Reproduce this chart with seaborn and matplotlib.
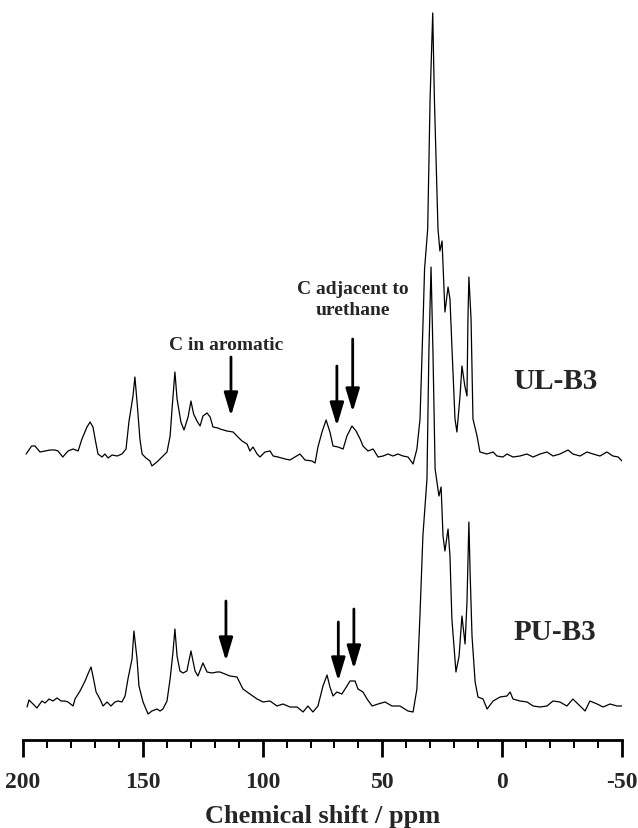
import numpy as np
import pandas as pd
import matplotlib
matplotlib.use("Agg")
import matplotlib.pyplot as plt
from matplotlib.ticker import MultipleLocator
import seaborn as sns

# ---------------- data ----------------
ul_ppm = [198.7, 196.4, 195.0, 192.9, 190.8, 188.7, 186.6, 185.4, 183.4, 181.2,
          179.1, 177.0, 175.4, 173.3, 172.0, 170.8, 169.9, 168.7, 167.0, 165.8,
          164.5, 162.8, 160.7, 158.7, 157.0, 155.8, 154.1, 153.3, 152.4, 151.2,
          150.3, 148.7, 147.0, 146.2, 144.1, 142.0, 139.9, 138.6, 137.8, 136.6,
          135.7, 134.1, 132.8, 131.1, 129.9, 128.8, 127.4, 126.1, 124.9, 123.2,
          121.9, 120.7, 118.6, 117.8, 114.9, 112.3, 110.7, 108.6, 106.5, 105.3,
          104.0, 102.3, 101.1, 99.0, 96.9, 95.6, 93.6, 90.6, 88.6, 86.5,
          84.4, 82.3, 79.4, 78.1, 76.9, 75.2, 73.5, 71.9, 70.6, 68.5,
          66.4, 64.8, 62.7, 61.0, 59.3, 58.1, 56.0, 53.9, 51.8, 49.7,
          47.7, 45.6, 43.5, 41.4, 39.3, 37.2, 35.6, 34.3, 33.0, 32.4,
          31.1, 30.1, 29.0, 28.3, 26.8, 26.0, 25.1, 23.9, 22.6, 21.8,
          21.0, 19.7, 18.9, 17.6, 16.8, 15.6, 14.7, 14.3, 13.9, 13.0,
          12.2, 10.5, 9.3, 6.4, 3.8, 2.2, -0.3, -2.0, -4.5, -7.4,
          -10.3, -12.9, -15.8, -18.7, -21.2, -24.1, -27.5, -29.5, -32.5, -35.4,
          -37.9, -40.8, -43.7, -46.2, -48.4, -50.4]
ul_int = [0, 8, 8, 2, 3, 4, 4, 3, -3, 3,
          5, 3, 15, 27, 32, 27, 15, 0, -3, 0,
          -4, -1, -2, 0, 5, 32, 58, 77, 52, 15,
          0, -4, -7, -12, -8, -3, 2, 18, 45, 82,
          55, 32, 24, 37, 53, 40, 33, 28, 38, 41,
          37, 27, 26, 25, 23, 22, 18, 13, 10, 3,
          7, 0, -3, 2, 3, -2, -3, -5, -6, -3,
          0, -6, -7, -9, 7, 22, 34, 22, 8, 7,
          5, 18, 28, 23, 15, 8, 3, 5, -3, -2,
          0, -2, 0, -2, -3, -10, 5, 35, 135, 185,
          225, 355, 441, 355, 225, 203, 213, 142, 167, 155,
          108, 35, 22, 58, 88, 68, 58, 135, 177, 135,
          35, 18, 2, 0, 2, -2, -3, 0, -3, -2,
          0, -3, 0, 2, -2, 0, 4, 0, -2, 2,
          0, -2, 2, -2, -3, -8]

pu_ppm = [198.3, 197.5, 195.8, 194.2, 192.1, 190.8, 189.1, 187.5, 185.8, 184.1,
          182.5, 181.2, 179.1, 178.3, 176.2, 174.1, 172.9, 171.6, 170.8, 169.5,
          167.9, 166.6, 164.9, 163.3, 161.6, 160.3, 158.7, 157.4, 156.2, 154.5,
          153.7, 152.4, 151.6, 149.9, 148.7, 147.8, 146.2, 144.1, 142.8, 141.6,
          139.9, 138.6, 137.4, 136.6, 135.7, 134.5, 133.2, 131.6, 129.9, 128.2,
          127.0, 124.9, 123.2, 121.1, 119.0, 117.8, 113.6, 110.7, 108.2, 105.3,
          102.3, 99.8, 96.9, 94.0, 91.5, 88.6, 85.6, 83.1, 81.1, 79.0,
          76.9, 74.8, 73.1, 71.9, 70.6, 69.0, 66.9, 64.8, 63.5, 61.4,
          60.2, 58.1, 56.4, 54.3, 51.8, 48.9, 46.0, 42.7, 39.3, 37.2,
          35.6, 34.3, 33.1, 31.4, 30.6, 29.7, 28.9, 28.0, 26.4, 25.5,
          24.7, 23.9, 22.6, 21.8, 21.0, 19.3, 18.0, 16.8, 15.5, 14.7,
          13.9, 13.4, 12.6, 11.3, 10.1, 8.0, 6.3, 3.8, 0.9, -2.0,
          -3.3, -4.5, -7.4, -10.4, -12.9, -15.8, -18.7, -21.2, -24.1, -27.0,
          -29.5, -32.5, -34.6, -36.6, -39.6, -42.1, -45.0, -47.9, -50.4]
pu_int = [2, 9, 5, 1, 8, 6, 10, 8, 11, 8,
          8, 7, 3, 10, 18, 28, 35, 42, 33, 17,
          10, 3, 7, 3, 7, 8, 7, 13, 30, 50,
          78, 50, 23, 7, 0, -5, -2, 0, -2, 0,
          8, 30, 57, 80, 53, 38, 36, 38, 58, 38,
          33, 46, 37, 36, 37, 37, 33, 32, 20, 15,
          10, 7, 8, 3, 5, 2, 2, -3, 3, -3,
          3, 23, 34, 22, 13, 17, 15, 23, 28, 28,
          20, 17, 10, 3, 5, 7, 3, 3, -2, -3,
          20, 95, 173, 230, 357, 442, 357, 240, 213, 222,
          173, 158, 180, 153, 90, 37, 53, 93, 65, 107,
          187, 137, 73, 27, 12, 10, 0, 8, 12, 13,
          17, 10, 8, 7, 3, 2, 3, 8, 7, 3,
          10, 3, -2, 8, 5, 2, 5, 3, 3]

x_ticks = [200, 150, 100, 50, 0, -50]
x_tick_labels = ["200", "150", "100", "50", "0", "-50"]
series_names = ["UL-B3", "PU-B3"]

# ---------------- layout constants ----------------
UL_OFFSET = 286
PU_OFFSET = 31
SERIF = "Liberation Serif"

sns.set_style("white")
plt.rcParams["font.family"] = [SERIF, "DejaVu Serif"]
plt.rcParams["font.weight"] = "bold"

df = pd.concat([
    pd.DataFrame({"ppm": ul_ppm, "y": np.array(ul_int) + UL_OFFSET, "sample": series_names[0]}),
    pd.DataFrame({"ppm": pu_ppm, "y": np.array(pu_int) + PU_OFFSET, "sample": series_names[1]}),
])

W, H = 638, 829
fig = plt.figure(figsize=(W / 100, H / 100), dpi=100)
ax = fig.add_axes([23 / W, (H - 741) / H, (622 - 23) / W, 741 / H])

sns.lineplot(data=df, x="ppm", y="y", units="sample", estimator=None,
             color="black", linewidth=0.9, ax=ax, legend=False, sort=False)

ax.set_xlim(200, -50)
ax.set_ylim(0, 741)
ax.set_yticks([])
ax.set_ylabel("")
for s in ["top", "left", "right"]:
    ax.spines[s].set_visible(False)
ax.spines["bottom"].set_linewidth(2.0)
ax.spines["bottom"].set_color("black")
ax.set_xticks(x_ticks)
ax.set_xticklabels(x_tick_labels, fontsize=17, fontweight="bold", family=SERIF)
ax.xaxis.set_minor_locator(MultipleLocator(10))
ax.tick_params(axis="x", which="major", direction="out", length=12, width=2.0,
               color="black", pad=10, bottom=True)
ax.tick_params(axis="x", which="minor", direction="out", length=6, width=1.4,
               color="black", bottom=True)
ax.set_xlabel("Chemical shift / ppm", fontsize=19, fontweight="bold", family=SERIF,
              labelpad=9)

# sample labels
ax.text(-22.4, 359, series_names[0], ha="center", va="center", fontsize=21,
        fontweight="bold", family=SERIF)
ax.text(-22.0, 109, series_names[1], ha="center", va="center", fontsize=21,
        fontweight="bold", family=SERIF)

# annotations
ax.text(115.3, 396, "C in aromatic", ha="center", va="center", fontsize=14,
        fontweight="bold", family=SERIF)
ax.text(62.5, 441, "C adjacent to\nurethane", ha="center", va="center", fontsize=14,
        fontweight="bold", family=SERIF, multialignment="center", linespacing=1.3)

arrows = [  # (ppm, y_tail, y_tip)
    (113.2, 383, 324), (69.0, 374, 314), (62.4, 401, 328),
    (115.3, 139, 79), (68.4, 118, 59), (61.9, 131, 71),
]
for ppm, y0, y1 in arrows:
    ax.annotate("", xy=(ppm, y1), xytext=(ppm, y0),
                arrowprops=dict(arrowstyle="-|>,head_length=1.4,head_width=0.42",
                                mutation_scale=10, lw=2.0, color="black",
                                shrinkA=0, shrinkB=0))

fig.savefig("out.png", dpi=100)
